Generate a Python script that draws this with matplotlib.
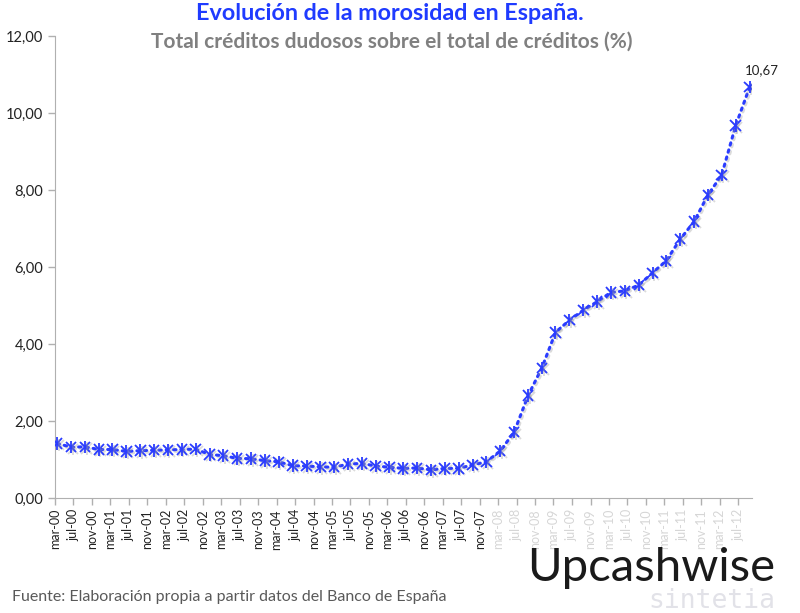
import pandas as pd
import matplotlib
matplotlib.use("Agg")
import matplotlib.pyplot as plt
import matplotlib.patheffects as pe
from matplotlib.transforms import ScaledTranslation

plt.rcParams['font.family'] = ['Lato', 'DejaVu Sans']

# Ratio de morosidad (%), datos trimestrales de mar-00 a sep-12
morosidad = [
    1.42, 1.32, 1.33, 1.26, 1.26, 1.21, 1.23, 1.24, 1.25, 1.26, 1.27,
    1.13, 1.10, 1.03, 1.02, 0.97, 0.94, 0.84, 0.83, 0.81, 0.80, 0.88,
    0.90, 0.83, 0.80, 0.77, 0.78, 0.73, 0.77, 0.77, 0.86, 0.94, 1.22,
    1.71, 2.66, 3.38, 4.30, 4.62, 4.88, 5.10, 5.34, 5.38, 5.53, 5.85,
    6.16, 6.72, 7.18, 7.87, 8.39, 9.67, 10.67,
]
inicio = "2000-03-01"
fin_etiquetas = "2012-07-01"
meses = {3: "mar", 7: "jul", 11: "nov"}
y_ticks = [0, 2, 4, 6, 8, 10, 12]

azul = "#2a3cff"

fechas = (pd.date_range(inicio, periods=len(morosidad), freq="3MS")
          + pd.Timedelta(days=14)).to_pydatetime()
ticks = pd.date_range(inicio, fin_etiquetas, freq="4MS").to_pydatetime()
etiquetas = [f"{meses[d.month]}-{d:%y}" for d in ticks]

fig = plt.figure(figsize=(8, 6.13), dpi=100)
ax = fig.add_axes([55 / 800, 115 / 613, 697 / 800, 462 / 613])

sombra = [pe.SimpleLineShadow(offset=(1.2, -1.2), shadow_color="#999999", alpha=0.35),
          pe.Normal()]
ax.plot(fechas, morosidad, color=azul, linestyle=(0, (0.8, 1.6)), linewidth=2.2,
        dash_capstyle="round", marker="x", markersize=7.5, markeredgewidth=1.3,
        path_effects=sombra, zorder=3)
ax.plot(fechas, morosidad, color=azul, linestyle="none", marker="|",
        markersize=9, markeredgewidth=1.3, path_effects=sombra, zorder=3)

ultimo = f"{morosidad[-1]:.2f}".replace(".", ",")
ax.annotate(ultimo, (fechas[-1], morosidad[-1]), xytext=(9, 8),
            textcoords="offset points", ha="center", va="bottom",
            fontsize=9.5, color="#222222")

ax.set_xlim(pd.Timestamp(inicio), pd.Timestamp("2012-10-01"))
ax.set_ylim(0, 12)
ax.set_yticks(y_ticks)
ax.set_yticklabels([f"{v:.2f}".replace(".", ",") for v in y_ticks],
                   fontsize=10.5, color="#222222")
ax.set_xticks(ticks)
ax.set_xticklabels(etiquetas, rotation=90, fontsize=9, color="#222222")
desplaza = ScaledTranslation(4 / 72, 0, fig.dpi_scale_trans)
for d, lbl in zip(ticks, ax.get_xticklabels()):
    lbl.set_transform(lbl.get_transform() + desplaza)
    if d.year > 2008 or (d.year == 2008 and d.month >= 3):
        lbl.set_color("#d6d6d6")

for s in ["top", "right"]:
    ax.spines[s].set_visible(False)
for s in ["left", "bottom"]:
    ax.spines[s].set_color("#b0b0b0")
ax.tick_params(axis="both", color="#b0b0b0", length=5, width=1)
ax.tick_params(axis="x", pad=3)

fig.text(390 / 800, 1 - 14 / 613, "Evolución de la morosidad en España.",
         ha="center", va="center", fontsize=16.8, fontweight="bold", color="#1f3bff")
fig.text(392 / 800, 1 - 42 / 613, "Total créditos dudosos sobre el total de créditos (%)",
         ha="center", va="center", fontsize=15, fontweight="bold", color="#808080")
fig.text(12 / 800, 1 - 597 / 613, "Fuente: Elaboración propia a partir datos del Banco de España",
         ha="left", va="center", fontsize=11.5, color="#595959")

fig.text(651 / 800, 1 - 568 / 613, "Upcashwise", ha="center", va="center",
         fontsize=34, color="#1a1a1a")
fig.text(712 / 800, 1 - 601 / 613, "sintetia", ha="center", va="center",
         fontsize=19, color="#e2e2e8", family="DejaVu Sans Mono")

fig.savefig("out.png", dpi=100)
